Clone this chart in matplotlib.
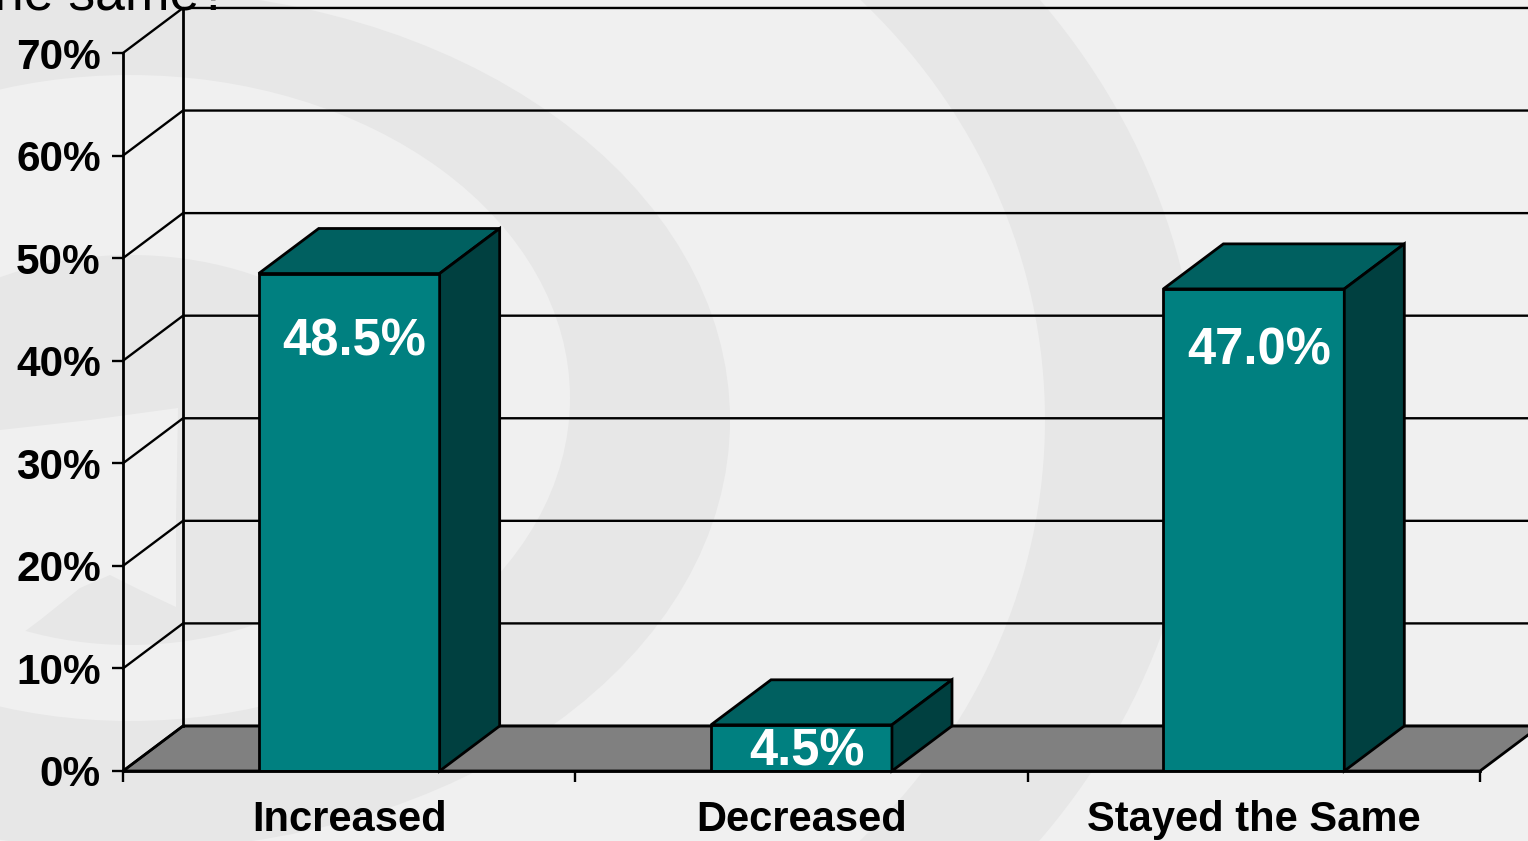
#!/usr/bin/env python3

import matplotlib
matplotlib.use('Agg')
import matplotlib.pyplot as plt
from matplotlib.patches import Ellipse, Polygon

categories = ['Increased', 'Decreased', 'Stayed the Same']
values = [48.5, 4.5, 47.0]
value_labels = ['48.5%', '4.5%', '47.0%']
label_y = [41.8, 1.85, 40.9]
y_ticks = [0, 10, 20, 30, 40, 50, 60, 70]
y_tick_labels = ['0%', '10%', '20%', '30%', '40%', '50%', '60%', '70%']

W, H = 1528, 841
LIGHT, DARK = '#f0f0f0', '#e7e7e7'
DX, DY = 0.1327, 4.39  # 3D depth in data units
BAR_W = 0.4
LW = 2.0

plt.rcParams['font.family'] = ['Liberation Sans', 'DejaVu Sans']

fig = plt.figure(figsize=(W / 100, H / 100), dpi=100, facecolor=LIGHT)

# background swirl, in pixels
bg = fig.add_axes([0, 0, 1, 1], zorder=0)
bg.set_xlim(0, W)
bg.set_ylim(H, 0)
bg.axis('off')
swirl = [
    (400, 420, 1600, 1400, DARK),
    (400, 420, 1290, 1200, LIGHT),
    (130, 420, 1200, 860, DARK),
    (130, 398, 880, 646, LIGHT),
    (130, 450, 560, 390, DARK),
]
for cx, cy, w, h, c in swirl:
    bg.add_patch(Ellipse((cx, cy), w, h, facecolor=c, edgecolor='none'))
# light eye of the swirl with its tail
bg.add_patch(Polygon([(0, 430), (90, 420), (178, 408), (176, 520), (176, 607),
                      (140, 590), (110, 575), (80, 588), (40, 620), (0, 650)],
                     closed=True, facecolor=LIGHT, edgecolor='none'))

# headline cut off by the top of the slide
fig.text(229 / W, 1 - 9 / H, 'the same?', fontsize=38.5, color='black',
         ha='right', va='baseline')

# axes sit on the front plane of the 3D box
ax = fig.add_axes([123 / W, 1 - 771 / H, (1480 - 123) / W, (771 - 53) / H], zorder=1)
ax.patch.set_alpha(0)
ax.set_xlim(0, 3)
ax.set_ylim(0, 70)
for s in ['top', 'right']:
    ax.spines[s].set_visible(False)
for s in ['left', 'bottom']:
    ax.spines[s].set_linewidth(LW)
    ax.spines[s].set_zorder(6)

ax.set_yticks(y_ticks)
ax.set_yticklabels(y_tick_labels, fontsize=30.5, fontweight='bold')
ax.set_xticks([0, 1, 2, 3])
ax.set_xticklabels([])
ax.set_xticks([0.5, 1.5, 2.5], minor=True)
ax.set_xticklabels(categories, minor=True, fontsize=30, fontweight='bold')
ax.tick_params(axis='both', which='major', length=8, width=LW - 0.3)
ax.tick_params(axis='y', pad=8)
ax.tick_params(axis='x', which='minor', length=0, pad=21)

# floor
ax.add_patch(Polygon([(0, 0), (3, 0), (3 + DX, DY), (DX, DY)], closed=True,
                     facecolor='#808080', edgecolor='black', linewidth=LW,
                     clip_on=False, zorder=2))

# back wall and gridlines
for t in y_ticks:
    ax.plot([0, DX, 3 + DX], [t, t + DY, t + DY], color='black', linewidth=LW - 0.3,
            clip_on=False, zorder=3)
ax.plot([DX, DX], [DY, 70 + DY], color='black', linewidth=LW, clip_on=False, zorder=3)

# bars
for i, v in enumerate(values):
    x0 = i + 0.5 - BAR_W / 2
    x1 = i + 0.5 + BAR_W / 2
    ax.bar(i + 0.5, v, width=BAR_W, color='#008080', edgecolor='black',
           linewidth=LW, zorder=4)
    ax.add_patch(Polygon([(x0, v), (x1, v), (x1 + DX, v + DY), (x0 + DX, v + DY)],
                         closed=True, facecolor='#006060', edgecolor='black',
                         linewidth=LW, clip_on=False, zorder=4))
    ax.add_patch(Polygon([(x1, 0), (x1, v), (x1 + DX, v + DY), (x1 + DX, DY)],
                         closed=True, facecolor='#004040', edgecolor='black',
                         linewidth=LW, clip_on=False, zorder=4))
    ax.text(i + 0.512, label_y[i], value_labels[i], color='white', fontsize=36.5,
            fontweight='bold', ha='center', va='center', zorder=5)

fig.savefig('out.png', dpi=100, facecolor=LIGHT)
